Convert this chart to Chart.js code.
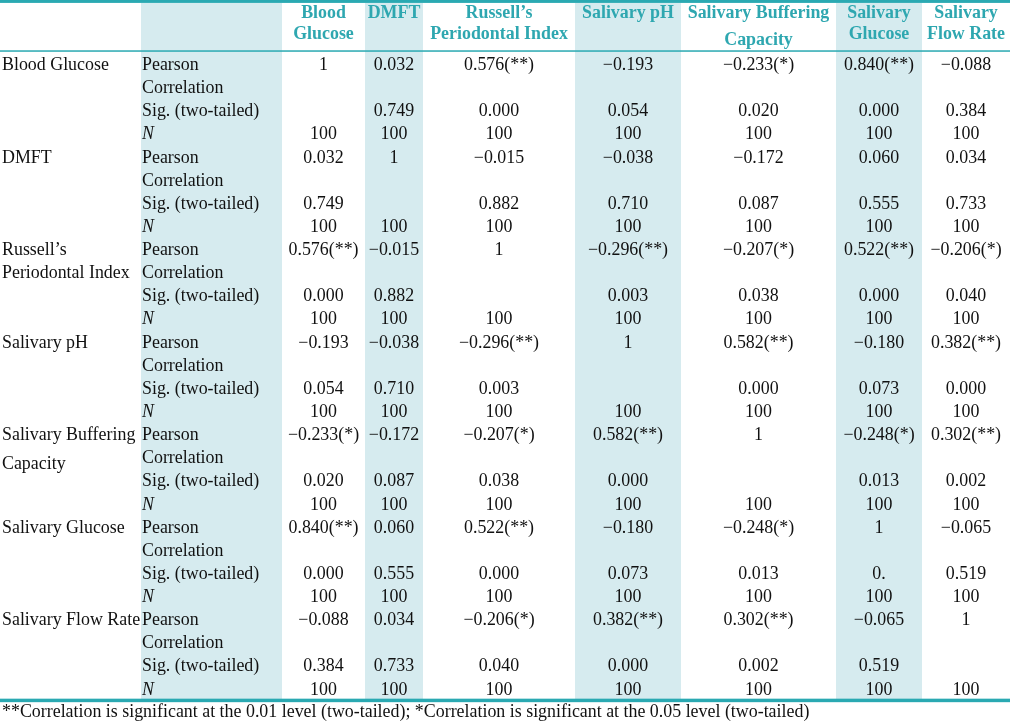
<!DOCTYPE html>
<html>
<head>
<meta charset="utf-8">
<script src="https://cdn.jsdelivr.net/npm/chart.js@4.4.0/dist/chart.umd.min.js"></script>
<style>
html,body{margin:0;padding:0;background:#ffffff;}
#wrap{width:1010px;height:724px;position:relative;}
</style>
</head>
<body>
<div id="wrap"><canvas id="c" width="1010" height="724"></canvas></div>
<script>
// ---------------- DATA ----------------
const variables = ["Blood Glucose", "DMFT", "Russell\u2019s Periodontal Index", "Salivary pH",
  "Salivary Buffering Capacity", "Salivary Glucose", "Salivary Flow Rate"];
const headerLines = [["Blood", "Glucose"], ["DMFT"], ["Russell\u2019s", "Periodontal Index"], ["Salivary pH"],
  ["Salivary Buffering", "Capacity"], ["Salivary", "Glucose"], ["Salivary", "Flow Rate"]];
const rowLabelLines = [["Blood Glucose"], ["DMFT"], ["Russell\u2019s", "Periodontal Index"], ["Salivary pH"],
  ["Salivary Buffering", "Capacity"], ["Salivary Glucose"], ["Salivary Flow Rate"]];
const statLabels = ["Pearson", "Correlation", "Sig. (two-tailed)", "N"];

const pearsonR = [
  [1, 0.032, 0.576, -0.193, -0.233, 0.840, -0.088],
  [0.032, 1, -0.015, -0.038, -0.172, 0.060, 0.034],
  [0.576, -0.015, 1, -0.296, -0.207, 0.522, -0.206],
  [-0.193, -0.038, -0.296, 1, 0.582, -0.180, 0.382],
  [-0.233, -0.172, -0.207, 0.582, 1, -0.248, 0.302],
  [0.840, 0.060, 0.522, -0.180, -0.248, 1, -0.065],
  [-0.088, 0.034, -0.206, 0.382, 0.302, -0.065, 1]
];
const pearsonStars = [
  ["", "", "**", "", "*", "**", ""],
  ["", "", "", "", "", "", ""],
  ["**", "", "", "**", "*", "**", "*"],
  ["", "", "**", "", "**", "", "**"],
  ["*", "", "*", "**", "", "*", "**"],
  ["**", "", "**", "", "*", "", ""],
  ["", "", "*", "**", "**", "", ""]
];
const sigValues = [
  ["", "0.749", "0.000", "0.054", "0.020", "0.000", "0.384"],
  ["0.749", "", "0.882", "0.710", "0.087", "0.555", "0.733"],
  ["0.000", "0.882", "", "0.003", "0.038", "0.000", "0.040"],
  ["0.054", "0.710", "0.003", "", "0.000", "0.073", "0.000"],
  ["0.020", "0.087", "0.038", "0.000", "", "0.013", "0.002"],
  ["0.000", "0.555", "0.000", "0.073", "0.013", "0.", "0.519"],
  ["0.384", "0.733", "0.040", "0.000", "0.002", "0.519", ""]
];
const nValues = [
  [100, 100, 100, 100, 100, 100, 100],
  [100, 100, 100, 100, 100, 100, 100],
  [100, 100, 100, 100, 100, 100, 100],
  [100, 100, 100, 100, 100, 100, 100],
  [100, 100, 100, 100, 100, 100, 100],
  [100, 100, 100, 100, 100, 100, 100],
  [100, 100, 100, 100, 100, 100, 100]
];
const footnote = "**Correlation is significant at the 0.01 level (two-tailed); *Correlation is significant at the 0.05 level (two-tailed)";

// ---------------- LAYOUT / STYLE ----------------
const COL_EDGES = [0, 141, 282, 365, 423, 575, 681, 836, 922, 1010]; // layout units along x
const SHADED_COLS = [1, 3, 5, 7];
const LINES_PER_GROUP = 4;
const Y_MIN = -3.026, Y_MAX = 28.27;      // y axis in text-line units (baseline of line 0 = 0)
const HEAD_LINE_Y = [-2.25, -1.34];
const CAPACITY_SHIFT = 0.24;
const RULE_TOP = [-3.026, -2.90];
const RULE_HEAD = -0.82;
const RULE_BOTTOM = 27.24;
const FOOT_Y = 27.97;
const TEAL = "#2aa9b2";
const HEAD_TEAL = "#2ea7b0";
const SHADE = "#d6ebef";
const INK = "#111111";
const FONT = "Liberation Serif";
const FSIZE = 17.9;

function fmtR(r, stars) {
  if (r === 1) return "1";
  return (r < 0 ? "\u2212" : "") + Math.abs(r).toFixed(3) + (stars ? "(" + stars + ")" : "");
}
function colCenter(c) { return (COL_EDGES[c] + COL_EDGES[c + 1]) / 2; }

// build cell points (one per data cell text)
const cellPoints = [];
variables.forEach((v, i) => {
  const base = i * LINES_PER_GROUP;
  variables.forEach((w, j) => {
    const x = colCenter(j + 2);
    cellPoints.push({ x: x, y: base, text: fmtR(pearsonR[i][j], pearsonStars[i][j]) });
    if (sigValues[i][j] !== "") cellPoints.push({ x: x, y: base + 2, text: sigValues[i][j] });
    if (nValues[i][j] != null) cellPoints.push({ x: x, y: base + 3, text: String(nValues[i][j]) });
  });
});

const tablePlugin = {
  id: "tablePlugin",
  beforeDatasetsDraw(chart) {
    const { ctx, scales: { x, y } } = chart;
    ctx.save();
    ctx.fillStyle = SHADE;
    const top = y.getPixelForValue(RULE_TOP[1]);
    const bot = y.getPixelForValue(RULE_BOTTOM);
    SHADED_COLS.forEach(c => {
      const x0 = x.getPixelForValue(COL_EDGES[c]);
      const x1 = x.getPixelForValue(COL_EDGES[c + 1]);
      ctx.fillRect(x0, top, x1 - x0, bot - top);
    });
    const xl = x.getPixelForValue(COL_EDGES[0]);
    const xr = x.getPixelForValue(COL_EDGES[COL_EDGES.length - 1]);
    ctx.fillStyle = TEAL;
    const t0 = y.getPixelForValue(RULE_TOP[0]), t1 = y.getPixelForValue(RULE_TOP[1]);
    ctx.fillRect(xl, t0, xr - xl, t1 - t0);
    const hy = y.getPixelForValue(RULE_HEAD);
    ctx.fillRect(xl, hy - 0.75, xr - xl, 1.5);
    ctx.fillRect(xl, bot - 1.5, xr - xl, 3.5);
    ctx.restore();
  },
  afterDatasetsDraw(chart) {
    const { ctx, scales: { x, y } } = chart;
    ctx.save();
    ctx.textBaseline = "alphabetic";
    ctx.font = "bold " + FSIZE + "px '" + FONT + "'";
    ctx.fillStyle = HEAD_TEAL;
    ctx.textAlign = "center";
    headerLines.forEach((lines, j) => {
      const cx = x.getPixelForValue(colCenter(j + 2));
      lines.forEach((t, k) => {
        let yy = HEAD_LINE_Y[k];
        if (t === "Capacity") yy += CAPACITY_SHIFT;
        ctx.fillText(t, cx, y.getPixelForValue(yy));
      });
    });
    ctx.fillStyle = INK;
    ctx.textAlign = "left";
    const xRow = x.getPixelForValue(COL_EDGES[0]) + 2;
    const xStat = x.getPixelForValue(COL_EDGES[1]) + 1;
    rowLabelLines.forEach((lines, i) => {
      const base = i * LINES_PER_GROUP;
      ctx.font = FSIZE + "px '" + FONT + "'";
      lines.forEach((t, k) => {
        let yy = base + k;
        if (t === "Capacity") yy += CAPACITY_SHIFT;
        ctx.fillText(t, xRow, y.getPixelForValue(yy));
      });
      statLabels.forEach((s, k) => {
        ctx.font = (s === "N" ? "italic " : "") + FSIZE + "px '" + FONT + "'";
        ctx.fillText(s, xStat, y.getPixelForValue(base + k));
      });
    });
    ctx.font = FSIZE + "px '" + FONT + "'";
    ctx.textAlign = "center";
    const meta = chart.getDatasetMeta(0);
    meta.data.forEach((el, idx) => {
      ctx.fillText(cellPoints[idx].text, el.x, el.y);
    });
    ctx.textAlign = "left";
    ctx.fillText(footnote, xRow, y.getPixelForValue(FOOT_Y));
    ctx.restore();
  }
};

new Chart(document.getElementById("c"), {
  type: "scatter",
  data: {
    datasets: [{
      data: cellPoints,
      pointRadius: 0,
      pointHoverRadius: 0,
      showLine: false
    }]
  },
  options: {
    responsive: false,
    animation: false,
    devicePixelRatio: 1,
    layout: { padding: 0 },
    events: [],
    plugins: { legend: { display: false }, tooltip: { enabled: false } },
    scales: {
      x: { type: "linear", min: COL_EDGES[0], max: COL_EDGES[COL_EDGES.length - 1], display: false },
      y: { type: "linear", min: Y_MIN, max: Y_MAX, reverse: true, display: false }
    }
  },
  plugins: [tablePlugin]
});
</script>
</body>
</html>
